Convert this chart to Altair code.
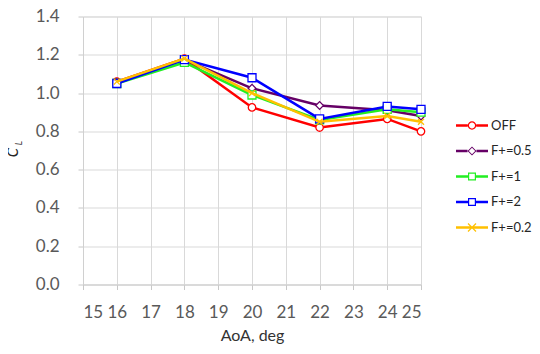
import altair as alt
import pandas as pd

aoa = [16, 18, 20, 22, 24, 25]
series_names = ["OFF", "F+=0.5", "F+=1", "F+=2", "F+=0.2"]
cl_off = [1.06, 1.18, 0.925, 0.82, 0.865, 0.80]
cl_f05 = [1.055, 1.175, 1.025, 0.935, 0.91, 0.88]
cl_f1 = [1.05, 1.16, 0.99, 0.86, 0.915, 0.90]
cl_f2 = [1.05, 1.175, 1.08, 0.865, 0.93, 0.915]
cl_f02 = [1.06, 1.18, 1.0, 0.85, 0.88, 0.85]
colors = ["#FF0000", "#660066", "#22EE22", "#0000FF", "#FFC000"]
x_ticks = list(range(15, 26))
y_ticks = [0.0, 0.2, 0.4, 0.6, 0.8, 1.0, 1.2, 1.4]

values = [cl_off, cl_f05, cl_f1, cl_f2, cl_f02]
rows = []
for name, vals in zip(series_names, values):
    for a, v in zip(aoa, vals):
        rows.append({"aoa": a, "cl": v, "series": name})
df = pd.DataFrame(rows)

FONT = "Lato"

xs = alt.X("aoa:Q", scale=alt.Scale(domain=[15, 25], nice=False),
           axis=alt.Axis(values=x_ticks, title="AoA, deg", format="d",
                         labelFontSize=17, labelColor="#595959", labelPadding=15,
                         titleFontSize=16, titleColor="#333333", titleFontWeight="normal",
                         titlePadding=7, tickSize=5, tickColor="#c8c8c8",
                         domainColor="#d0d0d0", gridColor="#d9d9d9", labelFont=FONT,
                         titleFont=FONT))
ys = alt.Y("cl:Q", scale=alt.Scale(domain=[0, 1.4], nice=False),
           axis=alt.Axis(values=y_ticks, title=None, format=".1f",
                         labelFontSize=17, labelColor="#595959", labelPadding=19,
                         tickSize=5, tickColor="#c8c8c8", domainColor="#d0d0d0",
                         gridColor="#d9d9d9", labelFont=FONT))

base = alt.Chart(df)

# marker shapes for plot
marker_shapes = ["circle", "diamond", "square", "square", "M-1,-1L1,1M-1,1L1,-1"]
marker_sizes = [55, 60, 64, 64, 36]

layers = []
for name, col, shp, sz in zip(series_names, colors, marker_shapes, marker_sizes):
    sub = base.transform_filter(alt.datum.series == name)
    layers.append(sub.mark_line(color=col, strokeWidth=2.5).encode(x=xs, y=ys))
    layers.append(sub.mark_point(shape=shp, size=sz, filled=True, fill="white",
                                 stroke=col, strokeWidth=1.3, opacity=1)
                  .encode(x=xs, y=ys))

# legend symbol paths (line + hollow marker), units of 10 px
seg = "M-1.6,-0.12H-0.42V0.12H-1.6Z M0.42,-0.12H1.6V0.12H0.42Z"
legend_paths = [
    seg + " M-0.42,0A0.42,0.42 0 1,1 0.42,0A0.42,0.42 0 1,1 -0.42,0Z"
        " M-0.3,0A0.3,0.3 0 1,0 0.3,0A0.3,0.3 0 1,0 -0.3,0Z",
    "M-1.6,-0.12H-0.45V0.12H-1.6Z M0.45,-0.12H1.6V0.12H0.45Z"
    " M0,-0.45L0.45,0L0,0.45L-0.45,0Z M0,-0.32L-0.32,0L0,0.32L0.32,0Z",
    "M-1.6,-0.12H-0.4V0.12H-1.6Z M0.4,-0.12H1.6V0.12H0.4Z"
    " M-0.4,-0.4H0.4V0.4H-0.4Z M-0.28,-0.28V0.28H0.28V-0.28Z",
    "M-1.6,-0.12H-0.4V0.12H-1.6Z M0.4,-0.12H1.6V0.12H0.4Z"
    " M-0.4,-0.4H0.4V0.4H-0.4Z M-0.28,-0.28V0.28H0.28V-0.28Z",
    "M-1.6,-0.12H1.6V0.12H-1.6Z"
    " M-0.358,-0.442L0.442,0.358L0.358,0.442L-0.442,-0.358Z"
    " M-0.442,0.358L0.358,-0.442L0.442,-0.358L-0.358,0.442Z",
]

legend_layer = base.mark_point(filled=True, strokeWidth=0, size=400, clip=True, opacity=1).encode(
    x=alt.value(-2000), y=alt.value(-2000),
    color=alt.Color("series:N", sort=series_names,
                    scale=alt.Scale(domain=series_names, range=colors),
                    legend=alt.Legend(title=None, orient="none", legendX=379, legendY=99,
                                      labelFontSize=13, labelFont=FONT, labelColor="#262626",
                                      labelOffset=9, rowPadding=8.5, padding=0,
                                      symbolSize=400, symbolStrokeWidth=0,
                                      symbolOpacity=1)),
    shape=alt.Shape("series:N", sort=series_names,
                    scale=alt.Scale(domain=series_names, range=legend_paths)),
)
layers.append(legend_layer)

# y-axis title C_L
tdf_c = pd.DataFrame({"t": ["C"]})
tdf_l = pd.DataFrame({"t": ["L"]})
c_text = alt.Chart(tdf_c).mark_text(angle=270, fontSize=15, fontStyle="italic", font=FONT,
                                    color="#262626", align="center", baseline="alphabetic").encode(
    text="t:N", x=alt.value(-65), y=alt.value(136))
l_text = alt.Chart(tdf_l).mark_text(angle=270, fontSize=9, fontStyle="italic", font=FONT,
                                    color="#262626", align="center", baseline="alphabetic").encode(
    text="t:N", x=alt.value(-61), y=alt.value(126.5))
layers += [c_text, l_text]

chart = alt.layer(*layers).properties(
    width=338, height=268,
    autosize=alt.AutoSizeParams(type="none"),
    padding={"left": 75, "top": 8.5, "right": 111, "bottom": 61.5},
).configure_view(stroke=None).configure(font=FONT)

chart.save("out.html", embed_options={"renderer": "svg", "actions": False})
